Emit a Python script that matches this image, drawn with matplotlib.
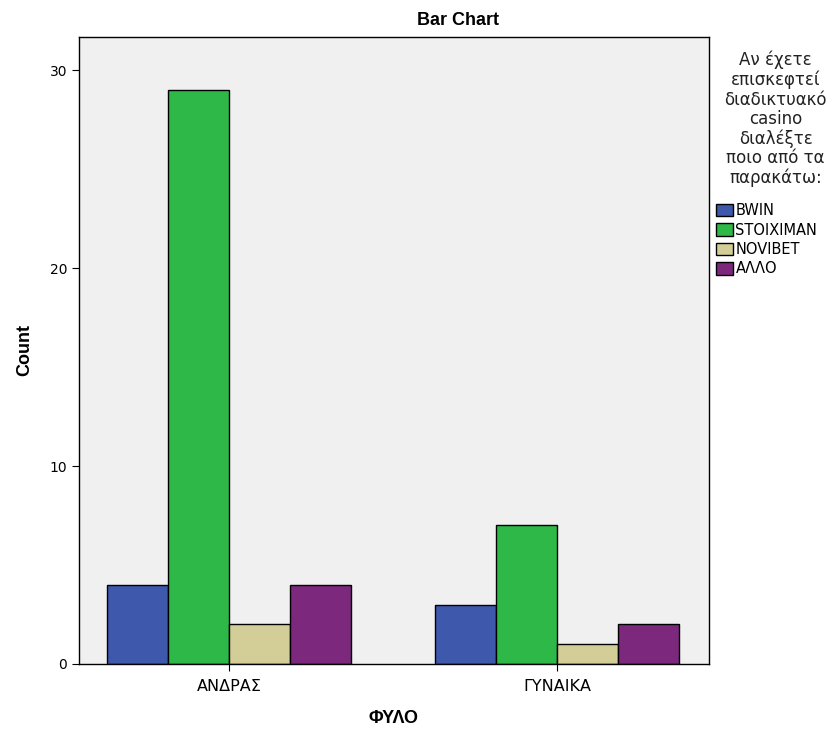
import numpy as np
import matplotlib.pyplot as plt

plt.rcParams['font.family'] = ['DejaVu Sans']

# data
groups = ['ΑΝΔΡΑΣ', 'ΓΥΝΑΙΚΑ']
sites = ['BWIN', 'STOIXIMAN', 'NOVIBET', 'ΑΛΛΟ']
counts = {
    'BWIN': [4, 3],
    'STOIXIMAN': [29, 7],
    'NOVIBET': [2, 1],
    'ΑΛΛΟ': [4, 2],
}
colors = ['#3e58ac', '#2eb848', '#d3ce97', '#7c287d']
legend_title = 'Αν έχετε\nεπισκεφτεί\nδιαδικτυακό\ncasino\nδιαλέξτε\nποιο από τα\nπαρακάτω:'

fig = plt.figure(figsize=(8.33, 7.35), dpi=100)
ax = fig.add_axes([0.0948, 0.0966, 0.7562, 0.8531])
ax.set_facecolor('#f0f0f0')

x = np.arange(len(groups))
w = 0.186
for i, s in enumerate(sites):
    ax.bar(x + (i - 1.5) * w, counts[s], w, color=colors[i],
           edgecolor='black', linewidth=1, label=s, zorder=2)

ax.set_xlim(-0.457, 1.463)
ax.set_ylim(0, 31.67)
ax.set_yticks([0, 10, 20, 30])
ax.set_xticks(x)
ax.set_xticklabels(groups, fontsize=11.5)
ax.tick_params(axis='y', labelsize=10, length=5, direction='out')
ax.tick_params(axis='x', length=5, direction='out', pad=6)
for sp in ax.spines.values():
    sp.set_linewidth(1)
    sp.set_color('black')

bold = dict(fontsize=13, fontweight='bold', family='Liberation Sans')
fig.text(0.55, 0.972, 'Bar Chart', ha='center', va='center', **bold)
ax.set_ylabel('Count', labelpad=12, **bold)
ax.set_xlabel('ΦΥΛΟ', labelpad=11, **bold)

# legend title as a separate centred block, entries below it
fig.text(0.931, 0.931, legend_title, ha='center', va='top', multialignment='center',
         fontsize=12, linespacing=1.1, color='#222222')
leg = ax.legend(loc='upper left', bbox_to_anchor=(1.012, 0.735), frameon=False,
                fontsize=10.5, handlelength=1.15, handleheight=0.95,
                handletextpad=0.15, labelspacing=0.3, borderaxespad=0.0,
                borderpad=0.0)

fig.savefig('out.png', dpi=100)
